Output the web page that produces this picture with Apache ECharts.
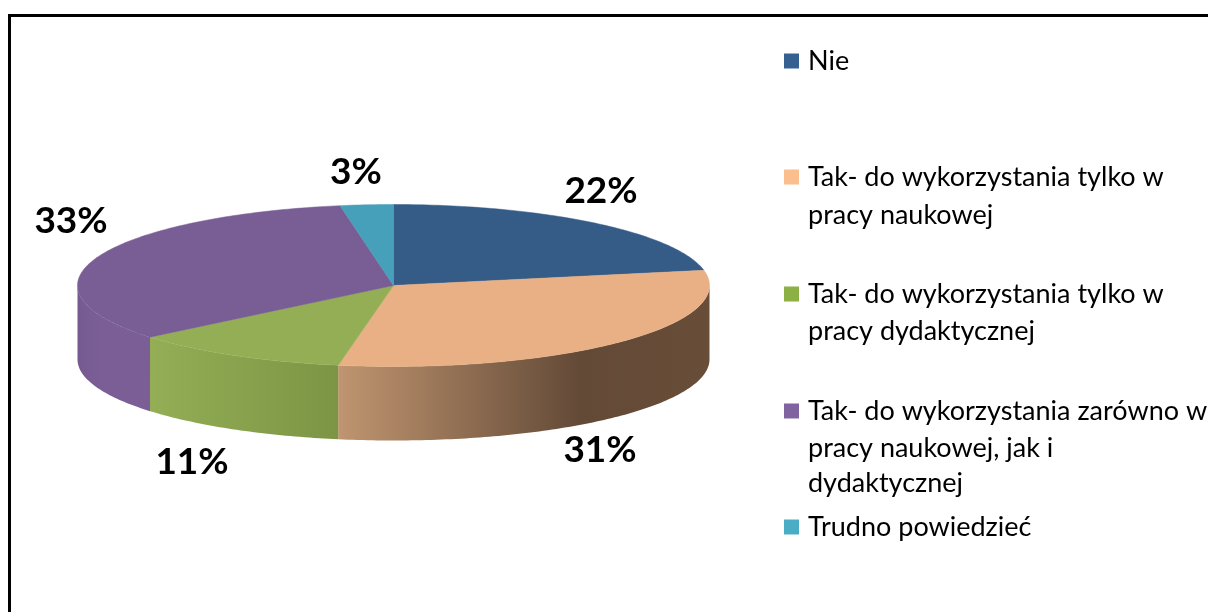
<!DOCTYPE html>
<html>
<head>
<meta charset="utf-8">
<style>html,body{margin:0;padding:0;background:#fff}#c{width:1208px;height:612px}</style>
<script src="https://cdn.jsdelivr.net/npm/echarts@6/dist/echarts.min.js"></script>
</head>
<body>
<div id="c"></div>
<script>
// Data
const categories = [
  'Nie',
  'Tak- do wykorzystania tylko w pracy naukowej',
  'Tak- do wykorzystania tylko w pracy dydaktycznej',
  'Tak- do wykorzystania zarówno w pracy naukowej, jak i dydaktycznej',
  'Trudno powiedzieć'
];
const shares = [22, 30.8, 11.2, 33.3, 2.7];
const legendLines = [
  ['Nie'],
  ['Tak- do wykorzystania tylko w', 'pracy naukowej'],
  ['Tak- do wykorzystania tylko w', 'pracy dydaktycznej'],
  ['Tak- do wykorzystania zarówno w', 'pracy naukowej, jak i', 'dydaktycznej'],
  ['Trudno powiedzieć']
];

// Styling and layout
const topColors = ['#355B87', '#E8B084', '#93AE55', '#785E94', '#46A0BA'];
const legendColors = ['#376092', '#FBBF8E', '#8DB045', '#8064A2', '#4BACC6'];
const sideStops = [
  [[0, '#2C4A70'], [1, '#2C4A70']],
  [[0, '#C09570'], [0.65, '#634A37'], [1, '#684D38']],
  [[0, '#93AE55'], [1, '#7C9545']],
  [[0, '#755A90'], [0.3, '#7A5E95'], [1, '#7A5E95']],
  [[0, '#3A8499'], [1, '#3A8499']]
];
const labelCentres = [[601, 191], [600, 450], [192, 462], [71, 221], [356, 172]];
const legendTops = [60, 176, 293, 410, 526];
const legendFollowY = [[], [215], [331], [448, 483], []];
const CX = 393.5, CY = 285.5, RX = 316, RY = 81, DEPTH = 74;
const LEGEND_FONT = 'Lato', LEGEND_SIZE = 27;
const total = shares.reduce((a, b) => a + b, 0);

function rimPoint(frac, dy) {
  const t = frac * 2 * Math.PI;
  return [CX + RX * Math.sin(t), CY - RY * Math.cos(t) + dy];
}
function arcPoints(f0, f1, dy) {
  const pts = [], n = Math.max(2, Math.ceil((f1 - f0) * 400));
  for (let i = 0; i <= n; i++) pts.push(rimPoint(f0 + (f1 - f0) * i / n, dy));
  return pts;
}

function makeRenderItem(idx) {
  return function (params, api) {
    const v = api.value(0);
    let before = 0;
    for (let i = 0; i < idx; i++) before += shares[i];
    const f0 = before / total, f1 = (before + v) / total;
    const children = [];
    // Visible wall: the front half of the rim only (1/4 .. 3/4 of the turn)
    const s0 = Math.max(f0, 0.25), s1 = Math.min(f1, 0.75);
    if (s1 > s0) {
      const upper = arcPoints(s0, s1, 0), lower = arcPoints(s0, s1, DEPTH).reverse();
      const stops = sideStops[idx].map(s => ({ offset: s[0], color: s[1] }));
      children.push({
        type: 'polygon',
        shape: { points: upper.concat(lower) },
        style: {
          fill: new echarts.graphic.LinearGradient(idx === 1 ? 0 : 0, 0, 1, 0, stops),
          stroke: null
        },
        z2: 1
      });
    }
    // Top face
    children.push({
      type: 'polygon',
      shape: { points: [[CX, CY]].concat(arcPoints(f0, f1, 0)) },
      style: { fill: topColors[idx], stroke: topColors[idx], lineWidth: 0.5 },
      z2: 2
    });
    // Percentage label
    children.push({
      type: 'text',
      x: labelCentres[idx][0],
      y: labelCentres[idx][1],
      style: {
        text: Math.round(v) + '%',
        fill: '#000',
        font: 'bold 37px Lato',
        align: 'center',
        verticalAlign: 'middle'
      },
      z2: 3
    });
    return { type: 'group', children };
  };
}

const series = categories.map((name, i) => ({
  type: 'custom',
  name,
  coordinateSystem: 'none',
  silent: true,
  animation: false,
  itemStyle: { color: legendColors[i] },
  renderItem: makeRenderItem(i),
  data: [[shares[i]]]
}));

const legend = categories.map((name, i) => ({
  show: true,
  left: 784,
  top: legendTops[i] - 15,
  padding: 0,
  orient: 'vertical',
  itemWidth: 15,
  itemHeight: 15,
  itemGap: 0,
  selectedMode: false,
  icon: 'rect',
  data: [{ name, icon: 'rect', itemStyle: { color: legendColors[i], borderWidth: 0 } }],
  formatter: () => legendLines[i][0],
  textStyle: { fontFamily: LEGEND_FONT, fontSize: LEGEND_SIZE, color: '#000', padding: [0, 0, 0, 4], lineHeight: 32 }
}));

const graphic = [{
  type: 'polyline',
  silent: true,
  shape: { points: [[9.5, 612], [9.5, 15.5], [1208, 15.5]] },
  style: { stroke: '#000', lineWidth: 3, fill: null }
}];
legendLines.forEach((lines, i) => {
  lines.slice(1).forEach((text, j) => {
    graphic.push({
      type: 'text',
      silent: true,
      x: 808,
      y: legendFollowY[i][j],
      style: { text, fill: '#000', font: LEGEND_SIZE + 'px ' + LEGEND_FONT, verticalAlign: 'middle' }
    });
  });
});

const chart = echarts.init(document.getElementById('c'), null, { renderer: 'canvas' });
chart.setOption({ animation: false, backgroundColor: '#fff', legend, graphic, series });
</script>
</body>
</html>
